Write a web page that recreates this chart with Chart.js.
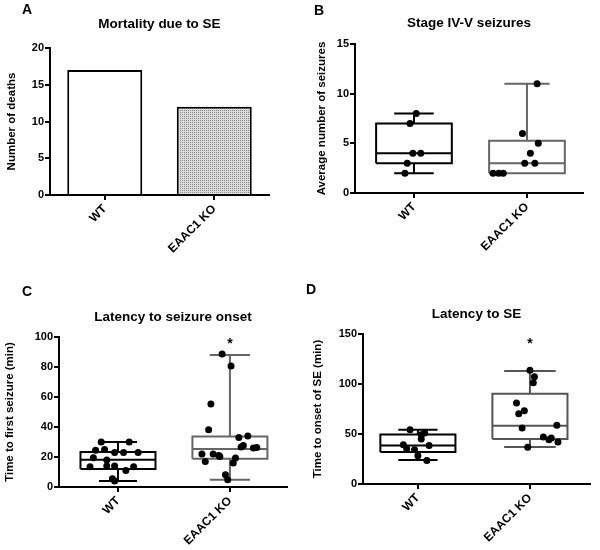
<!DOCTYPE html>
<html>
<head>
<meta charset="utf-8">
<script src="https://cdn.jsdelivr.net/npm/chart.js@4.4.1/dist/chart.umd.min.js"></script>
<style>
  body { margin: 0; background: #fff; }
  #fig { position: relative; width: 600px; height: 550px; }
  #fig canvas { position: absolute; }
</style>
</head>
<body>
<div id="fig">
  <canvas id="panelA" width="300" height="275" style="left:0;top:0"></canvas>
  <canvas id="panelB" width="300" height="275" style="left:300px;top:0"></canvas>
  <canvas id="panelC" width="300" height="275" style="left:0;top:275px"></canvas>
  <canvas id="panelD" width="300" height="275" style="left:300px;top:275px"></canvas>
</div>
<script>
const groups = ["WT", "EAAC1 KO"];

// A - mortality
const deaths = [17, 12];
const deathTicks = [0, 5, 10, 15, 20];

// B - stage IV-V seizures (box = min, q1, median, q3, max)
const seizWT = [8, 7, 4, 4, 3, 2];
const seizWTJit = [0.02, -0.035, -0.01, 0.06, -0.06, -0.08];
const seizKO = [11, 6, 5, 4, 3, 3, 2, 2, 2];
const seizKOJit = [0.09, -0.04, 0.1, 0.03, -0.02, 0.07, -0.3, -0.25, -0.21];
const seizBox = [[2, 3, 4, 7, 8], [2, 2, 3, 5.25, 11]];
const seizTicks = [0, 5, 10, 15];

// C - latency to first seizure (min)
const firstWT = [30, 30, 24.5, 25, 23, 23, 23, 19.5, 18, 13.5, 14, 14, 13.5, 11, 5.5, 4];
const firstWTJit = [-0.15, 0.1, -0.2, -0.12, 0.05, 0.18, -0.03, -0.22, -0.1, -0.25, -0.1, -0.03, 0.14, 0.07, -0.05, -0.03];
const firstKO = [88.7, 80.7, 55.4, 38.1, 33, 34, 27.7, 26.6, 26, 26.4, 22, 22, 21, 20.4, 19.3, 17, 16, 8.2, 4.9];
const firstKOJit = [-0.07, 0.01, -0.17, -0.19, 0.08, 0.16, 0.12, 0.1, 0.21, 0.24, -0.25, -0.15, -0.1, -0.09, 0.05, -0.22, 0.03, -0.04, -0.02];
const firstBox = [[4, 12, 18.2, 23.3, 30], [4.9, 18.8, 25.3, 33.7, 88]];
const firstTicks = [0, 20, 40, 60, 80, 100];
const firstStars = [null, 97.5];

// D - latency to SE (min)
const seWT = [54.3, 49.3, 51, 45, 39.3, 35.3, 38.6, 34.3, 28.3, 23.6];
const seWTJit = [-0.07, 0.03, 0.06, 0.03, -0.13, -0.1, 0.1, -0.03, 0, 0.08];
const seKO = [113.7, 107.3, 101.3, 81, 73.3, 70.3, 56, 58.7, 47, 46, 44.3, 42, 36.7];
const seKOJit = [0, 0.04, 0.03, -0.12, -0.05, -0.1, -0.07, 0.24, 0.12, 0.19, 0.17, 0.25, -0.02];
const seBox = [[24, 32, 38.6, 49.5, 54.3], [37, 45, 58.3, 90.3, 113]];
const seTicks = [0, 50, 100, 150];
const seStars = [null, 143];

const FONT = "'Liberation Sans', Arial, sans-serif";
Chart.defaults.font.family = FONT;
Chart.defaults.font.weight = "bold";
Chart.defaults.color = "#000";

const panelText = {
  id: "panelText",
  afterDraw(chart, args, opts) {
    const { ctx, chartArea, scales } = chart;
    ctx.save();
    ctx.fillStyle = "#000";
    ctx.textAlign = "center";
    ctx.textBaseline = "middle";
    ctx.font = "bold 14px " + FONT;
    ctx.fillText(opts.letter, opts.letterX, opts.letterY);
    ctx.font = "bold 13.5px " + FONT;
    ctx.fillText(opts.title, (chartArea.left + chartArea.right) / 2, opts.titleY);
    if (opts.stars) {
      ctx.font = "bold 14px " + FONT;
      opts.stars.forEach((v, i) => {
        if (v == null) return;
        ctx.fillText("*", scales.x.getPixelForValue(i), scales.y.getPixelForValue(v) + 3);
      });
    }
    ctx.restore();
  }
};

function dotPattern() {
  const c = document.createElement("canvas");
  c.width = 2; c.height = 2;
  const g = c.getContext("2d");
  g.fillStyle = "#dcdcdc";
  g.fillRect(0, 0, 2, 2);
  g.fillStyle = "#8c8c8c";
  g.fillRect(0, 0, 1, 1);
  return g.createPattern(c, "repeat");
}

function yAxis(ticks, label, width, titlePad) {
  return {
    min: ticks[0],
    max: ticks[ticks.length - 1],
    afterBuildTicks: s => { s.ticks = ticks.map(v => ({ value: v })); },
    afterFit: s => { s.width = width; },
    grid: { drawOnChartArea: false, color: "#000", lineWidth: 2, tickLength: 5 },
    border: { color: "#000", width: 2 },
    ticks: { padding: 1, font: { size: 11, weight: "bold" } },
    title: { display: true, text: label, font: { size: 11.5, weight: "bold" }, padding: { top: titlePad, bottom: 0 } }
  };
}

const xTickOpts = { autoSkip: false, minRotation: 45, maxRotation: 45, padding: 2, font: { size: 12, weight: "bold" } };

function xAxisBox(min, max) {
  return {
    type: "linear",
    min: min,
    max: max,
    afterBuildTicks: s => { s.ticks = groups.map((g, i) => ({ value: i })); },
    afterFit: s => { s.height = 60; },
    grid: { drawOnChartArea: false, color: "#000", lineWidth: 2, tickLength: 5 },
    border: { color: "#000", width: 2 },
    ticks: Object.assign({ callback: v => groups[v] }, xTickOpts)
  };
}

function boxLines(i, s, halfBox, halfCap) {
  const [lo, q1, med, q3, hi] = s;
  const gap = { x: i, y: null };
  const pts = [
    { x: i - halfBox, y: q1 }, { x: i + halfBox, y: q1 }, { x: i + halfBox, y: q3 },
    { x: i - halfBox, y: q3 }, { x: i - halfBox, y: q1 }, gap,
    { x: i - halfBox, y: med }, { x: i + halfBox, y: med }, gap,
    { x: i, y: q3 }, { x: i, y: hi }, gap,
    { x: i - halfCap, y: hi }, { x: i + halfCap, y: hi }, gap
  ];
  if (lo < q1) {
    pts.push({ x: i, y: q1 }, { x: i, y: lo }, gap, { x: i - halfCap, y: lo }, { x: i + halfCap, y: lo });
  }
  return pts;
}

function boxChart(id, p) {
  const datasets = [];
  p.values.forEach((vals, i) => {
    datasets.push({
      data: vals.map((v, k) => ({ x: i + p.jitter[i][k], y: v })),
      backgroundColor: "#000",
      borderWidth: 0,
      pointRadius: 3.5,
      order: 0
    });
    datasets.push({
      data: boxLines(i, p.box[i], 0.335, p.caps[i]),
      showLine: true,
      spanGaps: false,
      borderColor: p.colors[i],
      borderWidth: 2,
      pointRadius: 0,
      order: 1
    });
  });
  new Chart(document.getElementById(id), {
    type: "scatter",
    data: { datasets },
    options: {
      responsive: false,
      animation: false,
      layout: { padding: p.padding },
      plugins: {
        legend: { display: false },
        tooltip: { enabled: false },
        panelText: p.text
      },
      scales: {
        x: xAxisBox(p.xMin, p.xMax),
        y: yAxis(p.ticks, p.yLabel, p.yWidth, p.titlePad)
      }
    },
    plugins: [panelText]
  });
}

// A
new Chart(document.getElementById("panelA"), {
  type: "bar",
  data: {
    labels: groups,
    datasets: [{
      data: deaths,
      backgroundColor: ["#fff", dotPattern()],
      borderColor: "#000",
      borderWidth: 2,
      borderSkipped: "bottom",
      barPercentage: 0.685,
      categoryPercentage: 1
    }]
  },
  options: {
    responsive: false,
    animation: false,
    layout: { padding: { top: 48, right: 31, bottom: 20, left: 0 } },
    plugins: {
      legend: { display: false },
      tooltip: { enabled: false },
      panelText: { letter: "A", letterX: 27, letterY: 10, title: "Mortality due to SE", titleY: 24 }
    },
    scales: {
      x: {
        afterFit: s => { s.height = 60; },
        grid: { offset: false, drawOnChartArea: false, color: "#000", lineWidth: 2, tickLength: 5 },
        border: { color: "#000", width: 2 },
        ticks: xTickOpts
      },
      y: yAxis(deathTicks, "Number of deaths", 50, 5)
    }
  },
  plugins: [panelText]
});

boxChart("panelB", {
  values: [seizWT, seizKO],
  jitter: [seizWTJit, seizKOJit],
  box: seizBox,
  caps: [0.175, 0.2],
  colors: ["#000", "#666"],
  ticks: seizTicks,
  yLabel: "Average number of seizures",
  yWidth: 55, titlePad: 15,
  xMin: -0.522, xMax: 1.496,
  padding: { top: 44, right: 17, bottom: 22, left: 0 },
  text: { letter: "B", letterX: 19, letterY: 11, title: "Stage IV-V seizures", titleY: 23 }
});

boxChart("panelC", {
  values: [firstWT, firstKO],
  jitter: [firstWTJit, firstKOJit],
  box: firstBox,
  caps: [0.17, 0.18],
  colors: ["#000", "#666"],
  ticks: firstTicks,
  yLabel: "Time to first seizure (min)",
  yWidth: 59, titlePad: 3,
  xMin: -0.527, xMax: 1.51,
  padding: { top: 62, right: 13, bottom: 3, left: 0 },
  text: { letter: "C", letterX: 27, letterY: 17, title: "Latency to seizure onset", titleY: 42, stars: firstStars }
});

boxChart("panelD", {
  values: [seWT, seKO],
  jitter: [seWTJit, seKOJit],
  box: seBox,
  caps: [0.175, 0.23],
  colors: ["#000", "#555"],
  ticks: seTicks,
  yLabel: "Time to onset of SE (min)",
  yWidth: 63, titlePad: 11,
  xMin: -0.49, xMax: 1.536,
  padding: { top: 59, right: 10, bottom: 6, left: 0 },
  text: { letter: "D", letterX: 11, letterY: 15, title: "Latency to SE", titleY: 39, stars: seStars }
});
</script>
</body>
</html>
